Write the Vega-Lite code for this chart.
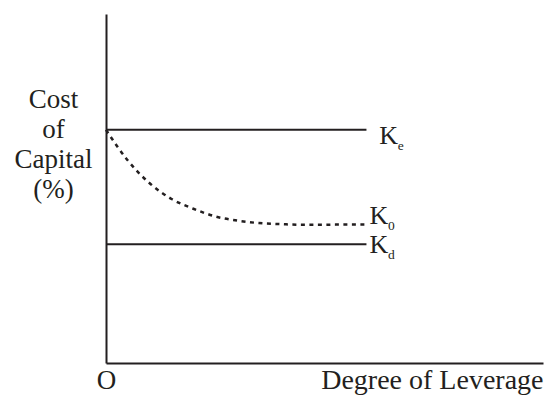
{
  "$schema": "https://vega.github.io/schema/vega-lite/v6.json",
  "width": 437,
  "height": 349,
  "autosize": {"type": "none"},
  "padding": {"left": 106, "top": 14, "right": 5, "bottom": 33},
  "background": "white",
  "config": {
    "view": {"stroke": null},
    "font": "Liberation Serif",
    "axis": {
      "domainColor": "#231f20",
      "domainWidth": 2,
      "grid": false,
      "ticks": false,
      "tickSize": 0,
      "labelFont": "Liberation Serif",
      "titleFont": "Liberation Serif",
      "labelColor": "#231f20",
      "titleColor": "#231f20",
      "titleFontWeight": "normal",
      "labelFontSize": 27,
      "titleFontSize": 27
    }
  },
  "datasets": {
    "flat": [
      {"series": "Ke", "leverage": 0, "cost": 6.68},
      {"series": "Ke", "leverage": 5.96, "cost": 6.68},
      {"series": "Kd", "leverage": 0, "cost": 3.4},
      {"series": "Kd", "leverage": 5.96, "cost": 3.4}
    ],
    "k0": [
      {"leverage": 0, "cost": 6.68},
      {"leverage": 0.5, "cost": 5.8},
      {"leverage": 1, "cost": 5.15},
      {"leverage": 1.5, "cost": 4.7},
      {"leverage": 2, "cost": 4.42},
      {"leverage": 2.5, "cost": 4.2},
      {"leverage": 3, "cost": 4.08},
      {"leverage": 3.5, "cost": 4.01},
      {"leverage": 4, "cost": 3.98},
      {"leverage": 4.5, "cost": 3.96},
      {"leverage": 5, "cost": 3.96},
      {"leverage": 5.5, "cost": 3.97},
      {"leverage": 5.95, "cost": 3.97}
    ],
    "labels": [
      {"main": "K", "sub": "e", "leverage": 6.25, "cost": 6.275},
      {"main": "K", "sub": "0", "leverage": 6.03, "cost": 3.98},
      {"main": "K", "sub": "d", "leverage": 6.03, "cost": 3.142}
    ]
  },
  "layer": [
    {
      "data": {"name": "flat"},
      "mark": {"type": "line", "color": "#231f20", "strokeWidth": 2},
      "encoding": {
        "x": {
          "field": "leverage", "type": "quantitative",
          "scale": {"domain": [0, 10], "nice": false, "zero": false},
          "axis": {
            "values": [0],
            "labelExpr": "'O'",
            "labelBaseline": "alphabetic",
            "labelPadding": 25,
            "labelDx": -3,
            "labelFlush": false,
            "labelOverlap": false,
            "title": "Degree of Leverage",
            "titleAnchor": "end",
            "titleAlign": "right",
            "titleX": 437,
            "titleY": 25,
            "titleBaseline": "alphabetic",
            "titleFontSize": 28
          }
        },
        "y": {
          "field": "cost", "type": "quantitative",
          "scale": {"domain": [0, 10], "nice": false, "zero": false},
          "axis": {
            "labels": false,
            "title": ["Cost", "of", "Capital", "(%)"],
            "titleAngle": 0,
            "titleAlign": "center",
            "titleBaseline": "alphabetic",
            "titleX": -53,
            "titleY": 93,
            "titleLineHeight": 30
          }
        },
        "detail": {"field": "series"}
      }
    },
    {
      "data": {"name": "k0"},
      "mark": {"type": "line", "color": "#231f20", "strokeWidth": 2.5, "strokeDash": [4, 4.5], "interpolate": "monotone"},
      "encoding": {
        "x": {"field": "leverage", "type": "quantitative"},
        "y": {"field": "cost", "type": "quantitative"}
      }
    },
    {
      "data": {"name": "labels"},
      "mark": {"type": "text", "align": "left", "baseline": "alphabetic", "fontSize": 26, "font": "Liberation Serif", "color": "#231f20"},
      "encoding": {
        "x": {"field": "leverage", "type": "quantitative"},
        "y": {"field": "cost", "type": "quantitative"},
        "text": {"field": "main"}
      }
    },
    {
      "data": {"name": "labels"},
      "mark": {"type": "text", "align": "left", "baseline": "alphabetic", "fontSize": 13.5, "dx": 18.5, "dy": 6, "font": "Liberation Serif", "color": "#231f20"},
      "encoding": {
        "x": {"field": "leverage", "type": "quantitative"},
        "y": {"field": "cost", "type": "quantitative"},
        "text": {"field": "sub"}
      }
    }
  ]
}
